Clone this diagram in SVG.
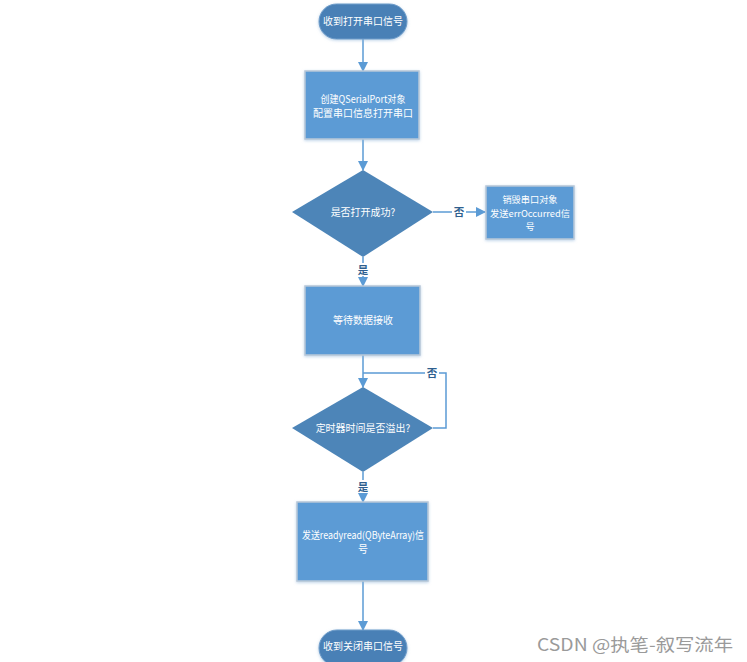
<svg xmlns="http://www.w3.org/2000/svg" width="747" height="662" viewBox="0 0 747 662">
<defs>
<marker id="ah" markerWidth="10" markerHeight="10" refX="9" refY="5" orient="auto" markerUnits="userSpaceOnUse">
<path d="M0,0 L10,5 L0,10 Z" fill="#5b9bd5"/>
</marker>
<filter id="sh" x="-20%" y="-20%" width="140%" height="140%">
<feDropShadow dx="0" dy="1" stdDeviation="1.5" flood-color="#8fb4d9" flood-opacity="0.6"/>
</filter>
</defs>
<style>
.term{fill:#4a80b6;stroke:#6f9dca;stroke-width:1;filter:url(#sh)}
.box{fill:#5b9bd5;stroke:#b8c8d8;stroke-width:1.5;filter:url(#sh)}
.dia{fill:#4d85b8;stroke:none}
.t{font-family:"Noto Sans CJK SC","Liberation Sans",sans-serif;font-size:10px;fill:#ffffff;text-anchor:middle}
.s{font-size:9.2px}
.lbl{font-family:"Noto Sans CJK SC","Liberation Sans",sans-serif;font-size:10.5px;fill:#2f5f8f;text-anchor:middle;font-weight:bold}
.ln{fill:none;stroke:#5b9bd5;stroke-width:1.5}
.ln2{fill:none;stroke:#5b9bd5;stroke-width:1.5;marker-end:url(#ah)}
</style>
<rect width="747" height="662" fill="#ffffff"/>
<g id="connectors">
<path class="ln2" d="M363,39 V71"/>
<path class="ln2" d="M363,139 V170"/>
<path class="ln2" d="M433,212 H485"/>
<path class="ln2" d="M363,257 V286"/>
<path class="ln2" d="M363,355 V387"/>
<path class="ln" d="M363,373 H446 V428 H433"/>
<path class="ln2" d="M363,472 V502"/>
<path class="ln2" d="M363,581 V630"/>
<rect x="452" y="206" width="14" height="13" fill="#ffffff"/>
<text class="lbl" x="459" y="216">否</text>
<rect x="356" y="263" width="14" height="13" fill="#ffffff"/>
<text class="lbl" x="363" y="274">是</text>
<rect x="425" y="367" width="14" height="12" fill="#ffffff"/>
<text class="lbl" x="432" y="377">否</text>
<rect x="356" y="480" width="14" height="13" fill="#ffffff"/>
<text class="lbl" x="363" y="491">是</text>
</g>
<g id="start">
<rect class="term" x="319" y="4" width="88" height="35" rx="17.5"/>
<text class="t" x="363" y="25">收到打开串口信号</text>
</g>
<g id="create">
<rect class="box" x="305" y="71" width="114" height="68"/>
<text class="t" x="363" y="103" textLength="85" lengthAdjust="spacingAndGlyphs">创建QSerialPort对象</text>
<text class="t" x="363" y="117">配置串口信息打开串口</text>
</g>
<g id="check-open">
<polygon class="dia" points="363,170 433,212 363,257 292,212"/>
<text class="t" x="363" y="216">是否打开成功?</text>
</g>
<g id="destroy">
<rect class="box" x="486" y="186" width="88" height="53"/>
<text class="t s" x="530" y="203">销毁串口对象</text>
<text class="t s" x="530" y="216.5" textLength="80" lengthAdjust="spacingAndGlyphs">发送errOccurred信</text>
<text class="t s" x="530" y="230">号</text>
</g>
<g id="wait">
<rect class="box" x="305" y="286" width="115" height="69"/>
<text class="t" x="363" y="324">等待数据接收</text>
</g>
<g id="check-timer">
<polygon class="dia" points="363,387 433,428 363,472 292,428"/>
<text class="t" x="363" y="432">定时器时间是否溢出?</text>
</g>
<g id="emit">
<rect class="box" x="297" y="502" width="131" height="79"/>
<text class="t" x="363" y="539" textLength="122" lengthAdjust="spacingAndGlyphs">发送readyread(QByteArray)信</text>
<text class="t" x="363" y="553">号</text>
</g>
<g id="end">
<rect class="term" x="319" y="630" width="88" height="36" rx="18"/>
<text class="t" x="363" y="650">收到关闭串口信号</text>
</g>
<text x="537" y="651" font-family="Noto Sans CJK SC,Liberation Sans,sans-serif" font-size="17" fill="#9a9a9a" textLength="196" lengthAdjust="spacingAndGlyphs">CSDN @执笔-叙写流年</text>
</svg>
